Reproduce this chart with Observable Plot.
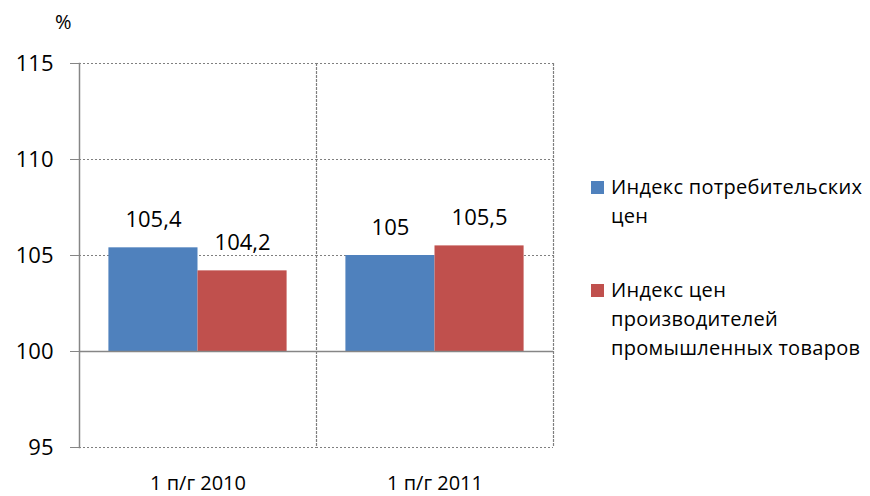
<!DOCTYPE html>
<html><head><meta charset="utf-8">
<script src="https://cdn.jsdelivr.net/npm/d3@7"></script>
<script src="https://cdn.jsdelivr.net/npm/@observablehq/plot@0.6"></script>
<style>
body{margin:0;background:#fff;}
#wrap{position:relative;width:870px;height:496px;font-family:"Open Sans",sans-serif;color:#000;}
#wrap svg{position:absolute;left:0;top:0;}
.unit{position:absolute;left:55px;top:7px;font-size:20px;line-height:29px;}
.leg{position:absolute;left:591px;font-size:20px;line-height:29px;}
.leg .sw{position:absolute;left:0;top:9px;width:13px;height:13px;}
.leg .tx{position:absolute;left:20px;top:0;white-space:nowrap;letter-spacing:0.3px;}
</style></head><body><div id="wrap"></div>
<script>
const categories = ["1 п/г 2010", "1 п/г 2011"];
const seriesNames = ["Индекс потребительских цен", "Индекс цен производителей промышленных товаров"];
const cpiValues = [105.4, 105.0];
const ppiValues = [104.2, 105.5];
const yTicks = [95, 100, 105, 110, 115];
const yDomain = [95, 115];
const baseline = 100;
const seriesColors = ["#4F81BD", "#C0504D"];
const legendLines = [["Индекс потребительских", "цен"], ["Индекс цен", "производителей", "промышленных товаров"]];
const unitLabel = "%";

const data = categories.flatMap((c, i) => [
  {cat: c, series: seriesNames[0], value: cpiValues[i]},
  {cat: c, series: seriesNames[1], value: ppiValues[i]}
]);
const fmt = v => d3.format(".1~f")(v).replace(".", ",");
const dotted = {stroke: "#7f7f7f", strokeOpacity: 1, strokeWidth: 1.2, strokeDasharray: "2,2"};

const chart = Plot.plot({
  width: 870, height: 496,
  marginLeft: 79, marginRight: 317, marginTop: 63, marginBottom: 49,
  style: {fontFamily: "Open Sans", fontSize: "22px", color: "black", background: "white"},
  fx: {domain: categories, padding: 0, label: null, axis: null},
  x: {domain: seriesNames, paddingInner: 0, paddingOuter: 0.33, axis: null, round: false},
  y: {domain: yDomain, axis: null},
  color: {domain: seriesNames, range: seriesColors},
  marks: [
    Plot.gridY(yTicks.filter(t => t !== baseline), dotted),
    Plot.frame({anchor: "right", ...dotted}),
    Plot.barY(data, {fx: "cat", x: "series", y1: d => baseline, y2: "value", fill: "series"}),
    Plot.ruleY([baseline], {stroke: "#868686", strokeWidth: 1.5}),
    Plot.frame({anchor: "left", facetAnchor: "left", stroke: "#868686", strokeWidth: 1.5}),
    Plot.axisY(yTicks, {tickSize: 9, stroke: "#868686", color: "black", tickPadding: 17, label: null}),
    Plot.axisFx({anchor: "bottom", tickSize: 0, tickPadding: 28, fontSize: 20, label: null}),
    Plot.text(data, {fx: "cat", x: "series", y: "value", text: d => fmt(d.value), lineAnchor: "bottom", dy: -21, fontSize: 22, fill: "black"})
  ]
});
const wrap = document.getElementById("wrap");
wrap.appendChild(chart);

const u = document.createElement("div");
u.className = "unit"; u.textContent = unitLabel; wrap.appendChild(u);

const legTops = [172, 275];
seriesNames.forEach((s, i) => {
  const d = document.createElement("div");
  d.className = "leg"; d.style.top = legTops[i] + "px";
  const sw = document.createElement("div");
  sw.className = "sw"; sw.style.background = seriesColors[i];
  const tx = document.createElement("div");
  tx.className = "tx"; tx.innerHTML = legendLines[i].join("<br>");
  d.appendChild(sw); d.appendChild(tx); wrap.appendChild(d);
});
</script></body></html>
